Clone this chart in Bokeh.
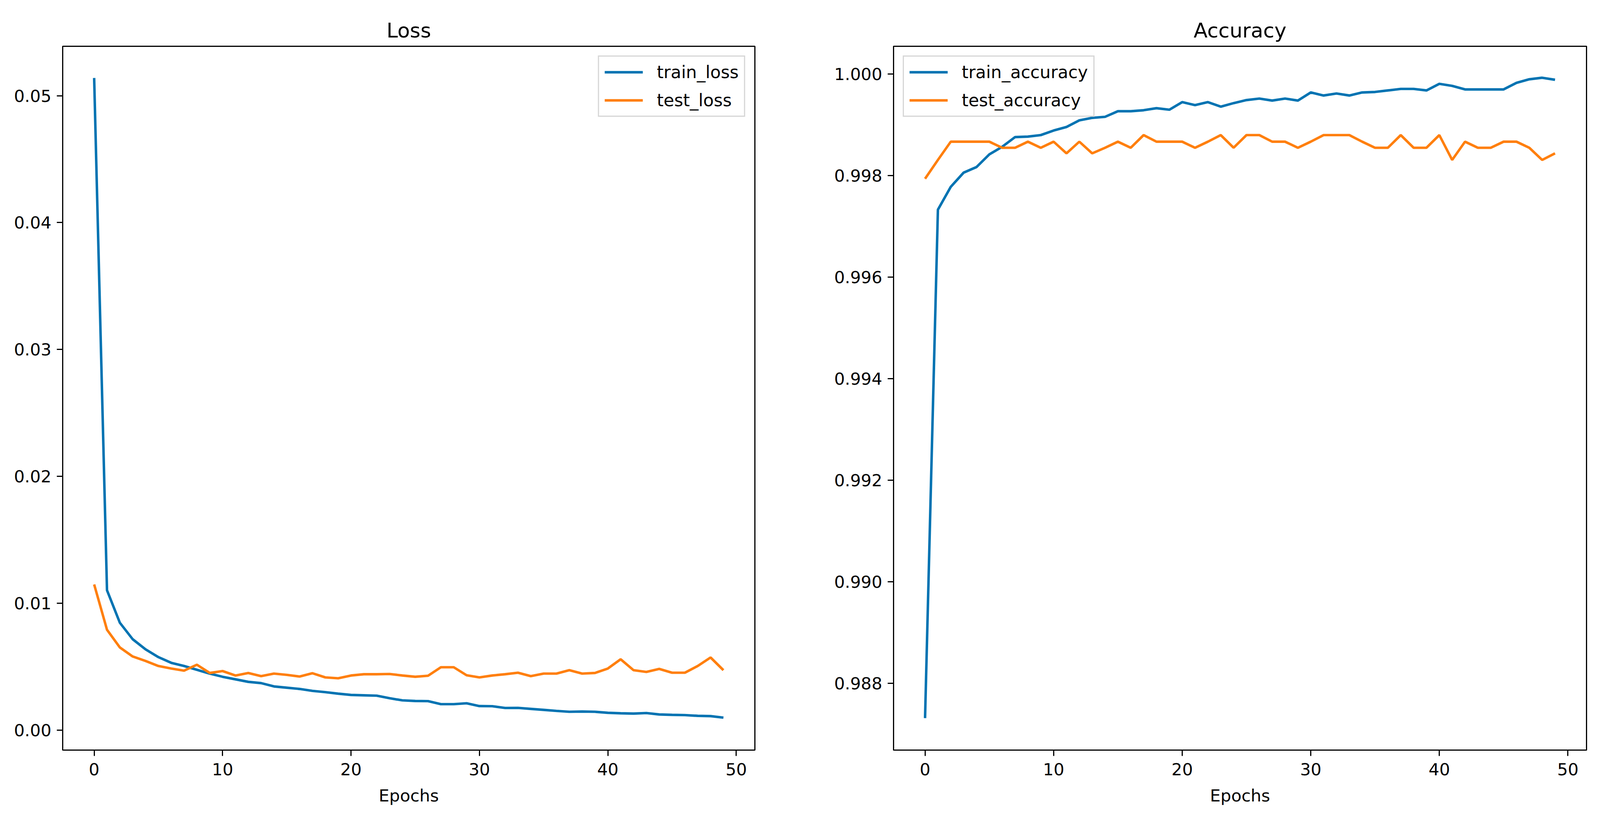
from bokeh.plotting import figure
from bokeh.layouts import row
from bokeh.models import Range1d, FixedTicker, PrintfTickFormatter
from bokeh.embed import file_html
from bokeh.resources import INLINE

epochs = list(range(50))

train_loss = [0.0514, 0.01102, 0.00846, 0.00716, 0.00636, 0.00575, 0.0053, 0.00505, 0.00475, 0.00445,
              0.0042, 0.0040, 0.0038, 0.0037, 0.00344, 0.00334, 0.00324, 0.00309, 0.00299, 0.00287,
              0.00277, 0.00274, 0.00271, 0.00251, 0.00234, 0.00229, 0.00228, 0.00204, 0.00204, 0.00211,
              0.00189, 0.00188, 0.00174, 0.00175, 0.00167, 0.00159, 0.00151, 0.00144, 0.00146, 0.00144,
              0.00136, 0.00132, 0.0013, 0.00134, 0.00123, 0.0012, 0.00118, 0.00112, 0.0011, 0.00098]

test_loss = [0.01148, 0.00791, 0.00651, 0.0058, 0.00545, 0.00505, 0.00485, 0.00468, 0.00515, 0.0045,
             0.00465, 0.0043, 0.0045, 0.00425, 0.00445, 0.00435, 0.00422, 0.00448, 0.00415, 0.00408,
             0.0043, 0.0044, 0.0044, 0.00442, 0.0043, 0.0042, 0.00428, 0.00495, 0.00495, 0.00432,
             0.00415, 0.0043, 0.0044, 0.00452, 0.00425, 0.00445, 0.00445, 0.00472, 0.00445, 0.0045,
             0.00485, 0.00558, 0.00472, 0.00458, 0.00482, 0.00452, 0.00452, 0.00505, 0.00572, 0.00472]

train_accuracy = [0.98731, 0.99733, 0.99778, 0.99806, 0.99817, 0.99842, 0.99857, 0.99876, 0.99877, 0.99880,
                  0.99889, 0.99896, 0.99909, 0.99914, 0.99916, 0.99927, 0.99927, 0.99929, 0.99933, 0.99930,
                  0.99945, 0.99939, 0.99945, 0.99936, 0.99943, 0.99949, 0.99952, 0.99948, 0.99952, 0.99948,
                  0.99964, 0.99958, 0.99962, 0.99958, 0.99964, 0.99965, 0.99968, 0.99971, 0.99971, 0.99968,
                  0.99981, 0.99977, 0.99970, 0.99970, 0.99970, 0.99970, 0.99983, 0.99990, 0.99993, 0.99989]

test_accuracy = [0.99794, 0.99831, 0.99867, 0.99867, 0.99867, 0.99867, 0.99855, 0.99855, 0.99867, 0.99855,
                 0.99867, 0.99844, 0.99867, 0.99844, 0.99855, 0.99867, 0.99855, 0.99880, 0.99867, 0.99867,
                 0.99867, 0.99855, 0.99867, 0.99880, 0.99855, 0.99880, 0.99880, 0.99867, 0.99867, 0.99855,
                 0.99867, 0.99880, 0.99880, 0.99880, 0.99867, 0.99855, 0.99855, 0.99880, 0.99855, 0.99855,
                 0.99880, 0.99831, 0.99867, 0.99855, 0.99855, 0.99867, 0.99867, 0.99855, 0.99831, 0.99844]

loss_ticks = [0.0, 0.01, 0.02, 0.03, 0.04, 0.05]
acc_ticks = [0.988, 0.990, 0.992, 0.994, 0.996, 0.998, 1.000]
x_ticks = [0, 10, 20, 30, 40, 50]

BLUE = "#0173B2"
ORANGE = "#FF7F0E"
FONT = "DejaVu Sans"


def make_fig(title, y_range, yticks, yfmt, left, right, frame_w):
    p = figure(frame_width=frame_w, frame_height=1802,
               x_range=Range1d(-2.45, 51.45), y_range=y_range,
               output_backend="svg", toolbar_location=None,
               min_border_left=left, min_border_right=right,
               min_border_top=118, min_border_bottom=160)
    p.title.text = title
    p.title.text_font = FONT
    p.title.text_font_size = "52px"
    p.title.text_font_style = "normal"
    p.title.align = "center"
    p.title.text_color = "black"
    p.title.standoff = 22
    p.background_fill_color = "white"
    p.border_fill_color = "white"
    p.outline_line_color = "black"
    p.outline_line_width = 3
    p.grid.visible = False
    for ax in (p.xaxis[0], p.yaxis[0]):
        ax.axis_line_color = "black"
        ax.axis_line_width = 3
        ax.major_tick_line_width = 3
        ax.major_tick_line_color = "black"
        ax.major_tick_out = 15
        ax.major_tick_in = 0
        ax.minor_tick_line_color = None
        ax.major_label_text_font = FONT
        ax.major_label_text_font_size = "43px"
        ax.major_label_text_color = "black"
        ax.major_label_standoff = 14
    p.xaxis[0].major_label_standoff = 18
    p.xaxis.ticker = FixedTicker(ticks=x_ticks)
    p.yaxis.ticker = FixedTicker(ticks=yticks)
    p.yaxis.formatter = PrintfTickFormatter(format=yfmt)
    p.xaxis.axis_label = "Epochs"
    p.xaxis.axis_label_text_font = FONT
    p.xaxis.axis_label_text_font_size = "43px"
    p.xaxis.axis_label_text_font_style = "normal"
    p.xaxis.axis_label_text_color = "black"
    p.xaxis.axis_label_standoff = 24
    return p


def style_legend(p, loc):
    lg = p.legend[0]
    lg.location = loc
    lg.label_text_font = FONT
    lg.label_text_font_size = "44px"
    lg.label_text_color = "black"
    lg.glyph_width = 98
    lg.glyph_height = 49
    lg.label_height = 49
    lg.label_standoff = 36
    lg.spacing = 21
    lg.padding = 14
    lg.margin = 24
    lg.border_line_color = "#cccccc"
    lg.border_line_width = 3
    lg.border_line_alpha = 0.8
    lg.background_fill_alpha = 0.8


p1 = make_fig("Loss", Range1d(-0.00158, 0.0539), loss_ticks, "%.2f", 160, 200, 1772)
p1.line(epochs, train_loss, line_color=BLUE, line_width=6.4, legend_label="train_loss")
p1.line(epochs, test_loss, line_color=ORANGE, line_width=6.4, legend_label="test_loss")
style_legend(p1, "top_right")

p2 = make_fig("Accuracy", Range1d(0.98668, 1.00055), acc_ticks, "%.3f", 154, 30, 1774)
p2.line(epochs, train_accuracy, line_color=BLUE, line_width=6.4, legend_label="train_accuracy")
p2.line(epochs, test_accuracy, line_color=ORANGE, line_width=6.4, legend_label="test_accuracy")
style_legend(p2, "top_left")

layout = row(p1, p2)
open("out.html", "w").write(file_html(layout, INLINE))
